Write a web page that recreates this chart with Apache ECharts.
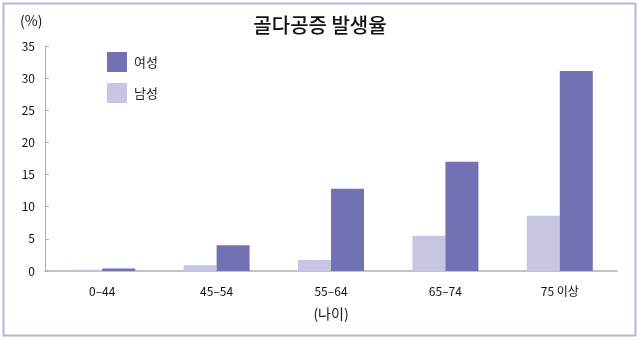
<!DOCTYPE html>
<html><head><meta charset="utf-8">
<script src="https://cdn.jsdelivr.net/npm/echarts@6/dist/echarts.min.js"></script>
<style>html,body{margin:0;padding:0;background:#fff}#c{width:640px;height:340px}</style>
</head><body><div id="c"></div>
<script>
var categories = ['0–44', '45–54', '55–64', '65–74', '75 이상'];
var male = [0.2, 0.9, 1.7, 5.5, 8.6];
var female = [0.4, 4.0, 12.8, 17.0, 31.1];
var yTicks = [0, 5, 10, 15, 20, 25, 30, 35];
var titleText = '골다공증 발생율';
var yName = '(%)';
var xName = '(나이)';
var font = '"Noto Sans CJK KR", "Open Sans", sans-serif';

var chart = echarts.init(document.getElementById('c'), null, {renderer: 'canvas'});
chart.setOption({
  animation: false,
  title: {text: titleText, left: 'center', top: 10, textStyle: {fontFamily: font, fontSize: 20, fontWeight: 500, color: '#111'}},
  legend: {
    orient: 'vertical', left: 102, top: 47, itemWidth: 20, itemHeight: 20, itemGap: 11, icon: 'rect',
    data: ['여성', '남성'],
    textStyle: {fontFamily: font, fontSize: 13, color: '#222', padding: [0, 0, 0, 2]}
  },
  grid: {left: 45, right: 23, top: 46, bottom: 69},
  xAxis: {
    type: 'category', data: categories,
    name: xName, nameLocation: 'middle', nameGap: 36,
    nameTextStyle: {fontFamily: font, fontSize: 14, color: '#111'},
    axisLine: {lineStyle: {color: '#b0b0b0', width: 1.5}},
    axisTick: {show: false},
    axisLabel: {fontFamily: font, fontSize: 12, color: '#111', margin: 14}
  },
  yAxis: {
    type: 'value', min: 0, max: 35, interval: 5,
    axisLine: {show: true, lineStyle: {color: '#b0b0b0'}},
    axisTick: {show: true, length: 4, inside: true, lineStyle: {color: '#b0b0b0'}},
    splitLine: {show: false},
    axisLabel: {fontFamily: font, fontSize: 12, color: '#111', margin: 10}
  },
  graphic: [
    {type: 'rect', shape: {x: 3.5, y: 3.5, width: 632, height: 332}, style: {fill: 'none', stroke: '#b4b4e0', lineWidth: 2}},
    {type: 'text', left: 20, top: 14, style: {text: yName, font: '14px ' + font, fill: '#111'}}
  ],
  series: [
    {name: '남성', type: 'bar', data: male, barWidth: 33, barGap: '0%', itemStyle: {color: '#c6c5e2'}},
    {name: '여성', type: 'bar', data: female, barWidth: 33, barGap: '0%', itemStyle: {color: '#7271b4'}}
  ]
});
</script></body></html>
